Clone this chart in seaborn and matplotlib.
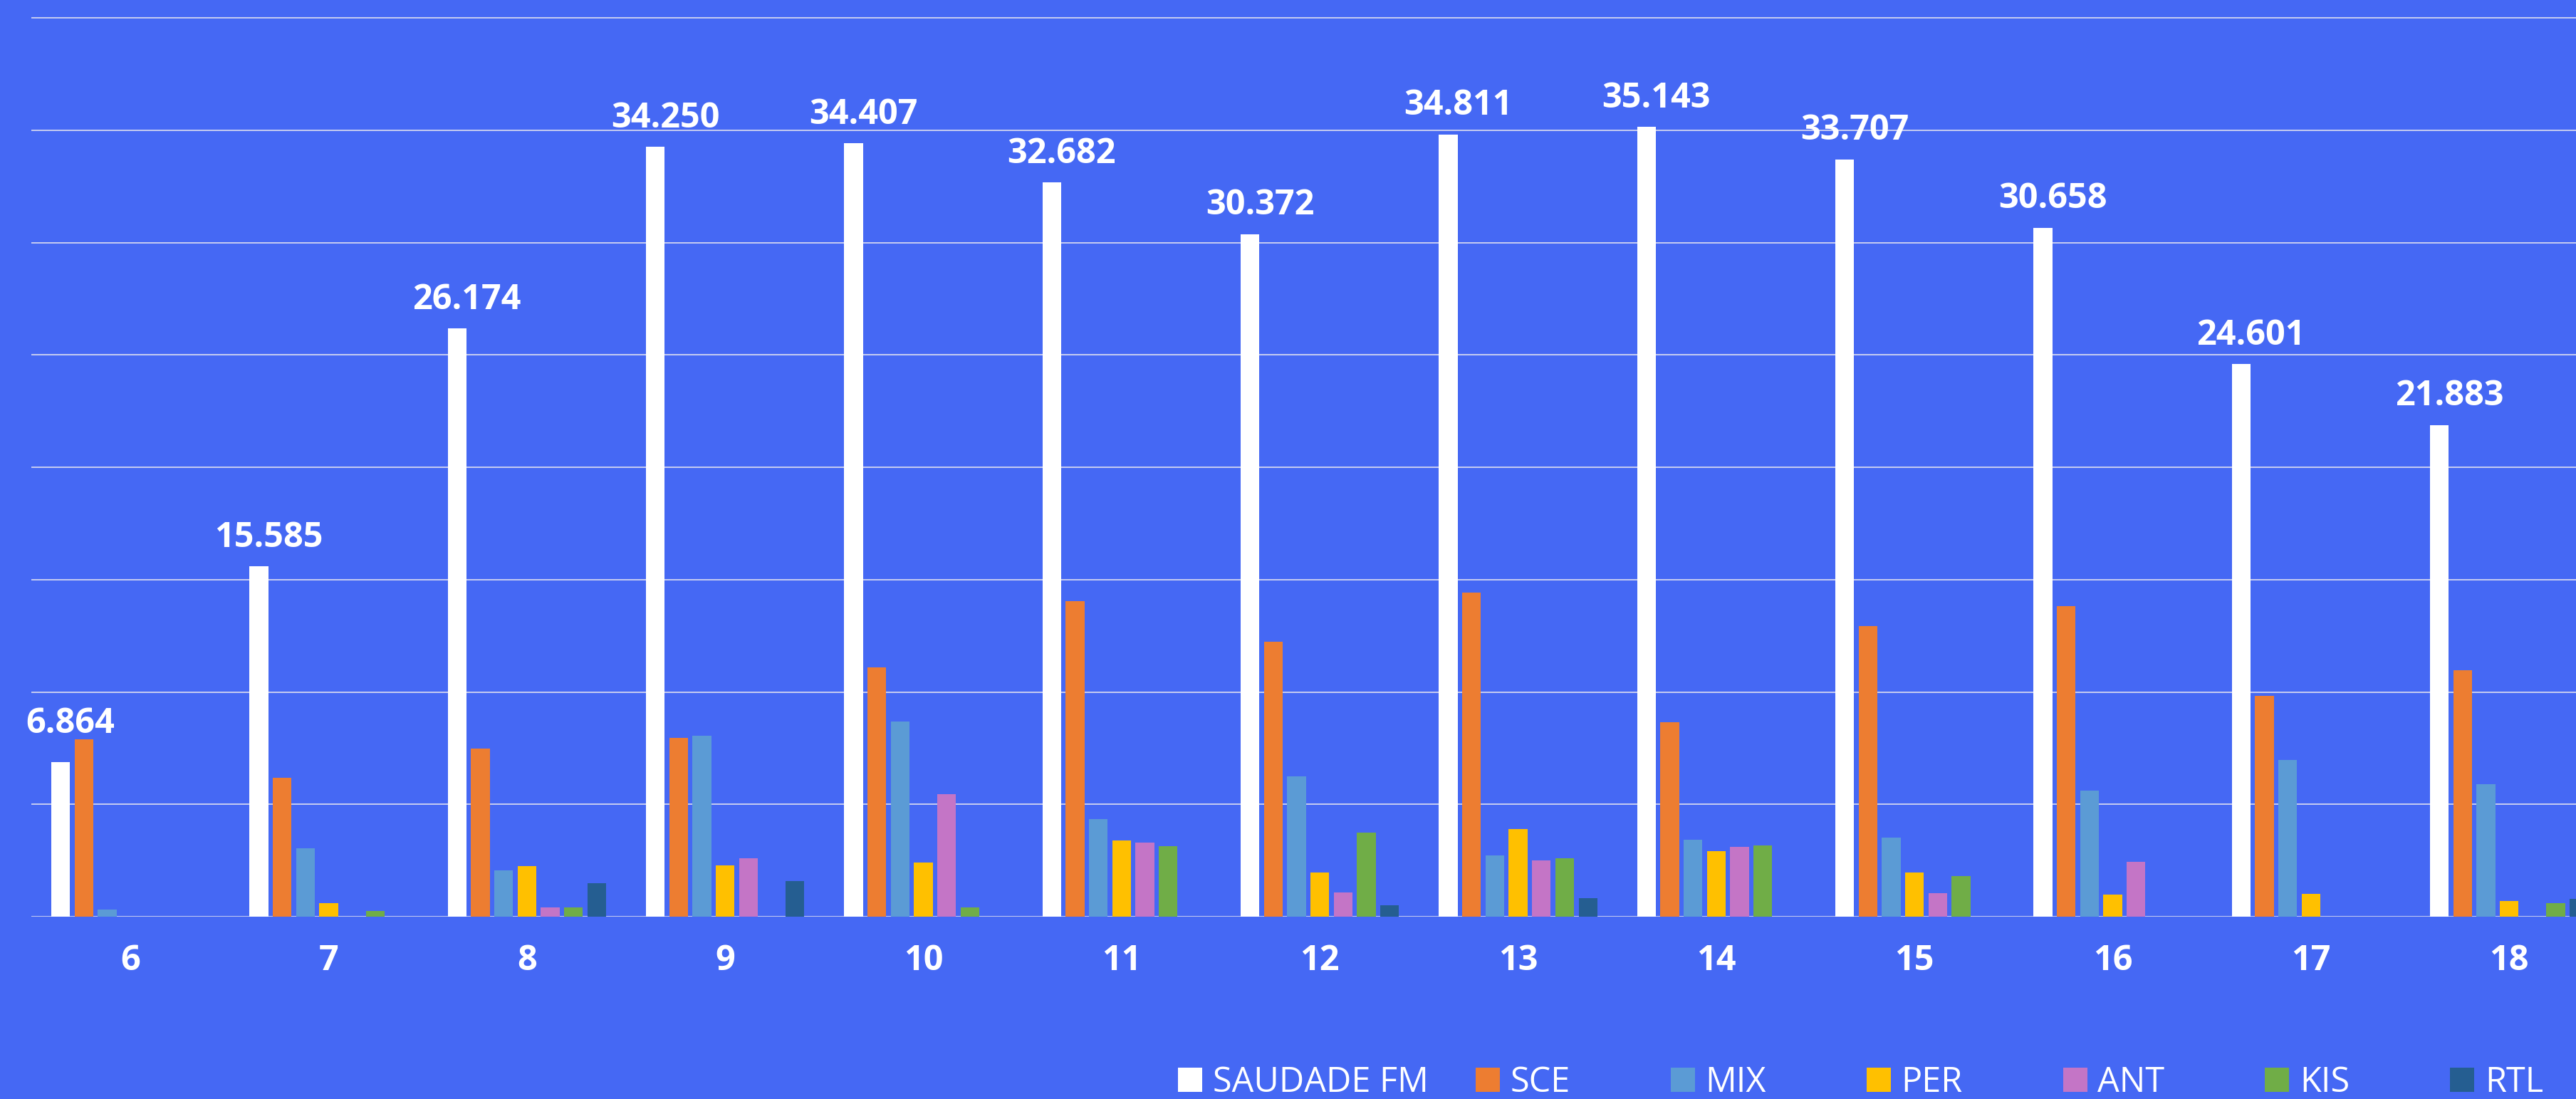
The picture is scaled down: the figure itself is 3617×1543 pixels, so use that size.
import pandas as pd
import matplotlib.pyplot as plt
import seaborn as sns

# Datos por hora (oyentes)
horas = ['6', '7', '8', '9', '10', '11', '12', '13', '14', '15', '16', '17', '18']
saudade = [6864, 15585, 26174, 34250, 34407, 32682, 30372, 34811, 35143, 33707, 30658, 24601, 21883]
sce = [7892, 6181, 7480, 7962, 11100, 14055, 12239, 14425, 8659, 12936, 13823, 9831, 10972]
mix = [317, 3043, 2060, 8057, 8690, 4351, 6252, 2735, 3432, 3527, 5618, 6980, 5903]
per = [0, 593, 2260, 2270, 2418, 3390, 1975, 3886, 2925, 1975, 982, 1024, 708]
ant = [0, 0, 412, 2608, 5460, 3305, 1088, 2513, 3115, 1056, 2450, 0, 0]
kis = [0, 254, 412, 0, 422, 3147, 3749, 2598, 3168, 1816, 0, 0, 612]
rtl = [0, 0, 1500, 1595, 0, 0, 496, 824, 0, 0, 0, 0, 781]

emisoras = ['SAUDADE FM', 'SCE', 'MIX', 'PER', 'ANT', 'KIS', 'RTL']
series = [saudade, sce, mix, per, ant, kis, rtl]
colores = ['#FFFFFF', '#ED7D31', '#5B9BD5', '#FFC000', '#C475C6', '#70AD47', '#255E91']

# Formato largo para seaborn
df = pd.DataFrame({
    'hora': horas * len(emisoras),
    'emisora': [e for e in emisoras for _ in horas],
    'oyentes': [v for s in series for v in s],
})

fondo = '#4568F4'
sns.set_theme(style="white")
plt.rcParams['font.family'] = ['Open Sans', 'DejaVu Sans']

fig = plt.figure(figsize=(36.17, 15.43), dpi=100, facecolor=fondo)
ax = fig.add_axes([44 / 3617, 1 - 1287 / 1543, 1 - 44 / 3617, 1287 / 1543])
ax.set_facecolor(fondo)

sns.barplot(data=df, x='hora', y='oyentes', hue='emisora', order=horas,
            hue_order=emisoras, palette=dict(zip(emisoras, colores)),
            width=0.822, gap=0.2, linewidth=0, saturation=1, ax=ax, zorder=3)

# Etiquetas de valor solo para SAUDADE FM
etiquetas = [f"{v:,}".replace(',', '.') for v in saudade]
textos = ax.bar_label(ax.containers[0], labels=etiquetas, padding=11, color='white',
                      fontsize=35, fontweight='bold')
for i, t in enumerate(textos):
    # la etiqueta sube un poco cuando la barra SCE vecina es más alta
    t.xyann = (10, 21 if sce[i] > saudade[i] else 11)

ax.set_xlim(-0.5, 12.337)
ax.set_ylim(0, 40000 * 1287 / 1262)
ax.set_yticks(range(0, 40001, 5000))
ax.set_yticklabels([])
ax.yaxis.grid(True, color='#D2D5F0', linewidth=1.3, zorder=1)
ax.set_axisbelow(True)
ax.tick_params(axis='x', length=0, pad=27, labelsize=35, labelcolor='white')
ax.tick_params(axis='y', length=0)
for lbl in ax.get_xticklabels():
    lbl.set_fontweight('bold')
ax.set_xlabel('')
ax.set_ylabel('')
sns.despine(ax=ax, left=True, bottom=True)

# Leyenda inferior: SAUDADE FM aparte y el resto con columnas regulares
handles, labels = ax.get_legend_handles_labels()
ax.get_legend().remove()
estilo = dict(loc='center left', frameon=False, borderpad=0, borderaxespad=0,
              fontsize=35, labelcolor='white', handlelength=0.7,
              handleheight=0.7, handletextpad=0.3)
y_ley = 1 - 1520 / 1543
fig.legend(handles[:1], labels[:1], ncol=1,
           bbox_to_anchor=(1654 / 3617, y_ley), **estilo)
fig.legend(handles[1:], labels[1:], ncol=6, columnspacing=2.9,
           bbox_to_anchor=(2072 / 3617, y_ley), **estilo)

fig.savefig('out.png', dpi=100, facecolor=fondo)
